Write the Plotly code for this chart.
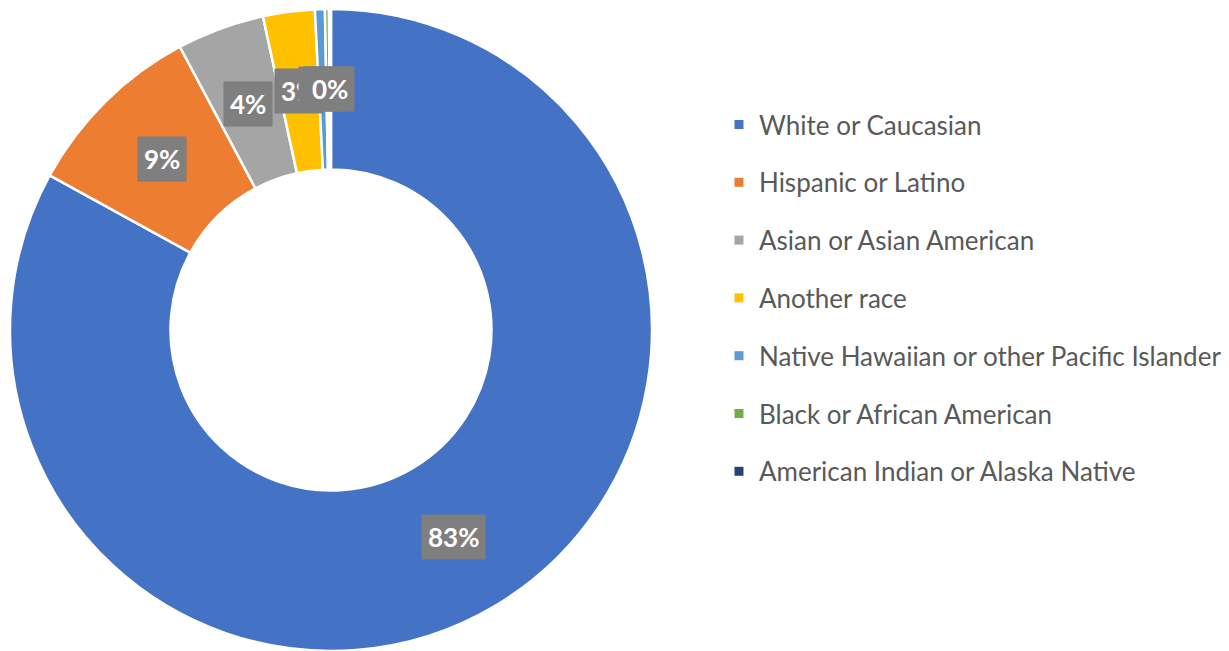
import math
import plotly.graph_objects as go

categories = [
    "White or Caucasian",
    "Hispanic or Latino",
    "Asian or Asian American",
    "Another race",
    "Native Hawaiian or other Pacific Islander",
    "Black or African American",
    "American Indian or Alaska Native",
]
values = [83.0, 9.2, 4.4, 2.6, 0.5, 0.2, 0.1]
colors = ["#4472C4", "#ED7D31", "#A5A5A5", "#FFC000", "#5B9BD5", "#70AD47", "#264478"]

W, H = 1229, 651
DOM_X = [0.0016, 0.524]
DOM_Y = [0.0123, 0.9985]
HOLE = 0.5

fig = go.Figure()
fig.add_trace(go.Pie(
    labels=categories, values=values, sort=False, direction="clockwise", rotation=0,
    hole=HOLE, marker=dict(colors=colors, line=dict(color="white", width=2.5)),
    textinfo="none", showlegend=False, hoverinfo="label+percent",
    domain=dict(x=DOM_X, y=DOM_Y),
))

# legend entries (dummy traces so that row spacing can match)
for cat, col in zip(categories, colors):
    fig.add_trace(go.Scatter(
        x=[None], y=[None], mode="markers", name=cat, legendgroup=cat,
        marker=dict(symbol="square", size=9, color=col),
    ))

# percentage labels in grey boxes, placed at mid-angle of each slice
cx = (DOM_X[0] + DOM_X[1]) / 2 * W
cy = H - (DOM_Y[0] + DOM_Y[1]) / 2 * H
r = min((DOM_X[1] - DOM_X[0]) * W, (DOM_Y[1] - DOM_Y[0]) * H) / 2
rm = r * (1 + HOLE) / 2
total = sum(values)
cum = 0.0
for v in values:
    mid = (cum + v / 2) / total * 2 * math.pi
    cum += v
    px = cx + rm * math.sin(mid)
    py = cy - rm * math.cos(mid)
    fig.add_annotation(
        x=px / W, y=1 - py / H, xref="paper", yref="paper",
        xanchor="center", yanchor="middle",
        text="<b>%d%%</b>" % round(v / total * 100), showarrow=False,
        font=dict(family="Lato", size=26, color="white"),
        bgcolor="#7F7F7F", borderpad=6,
    )

fig.update_layout(
    width=W, height=H, margin=dict(l=0, r=0, t=0, b=0),
    paper_bgcolor="white", plot_bgcolor="white",
    xaxis=dict(visible=False), yaxis=dict(visible=False),
    legend=dict(
        x=0.5785, xanchor="left", y=0.857, yanchor="top",
        font=dict(family="Lato", size=26, color="#595959"),
        tracegroupgap=21, bgcolor="rgba(0,0,0,0)",
    ),
)
fig.write_html("out.html")
